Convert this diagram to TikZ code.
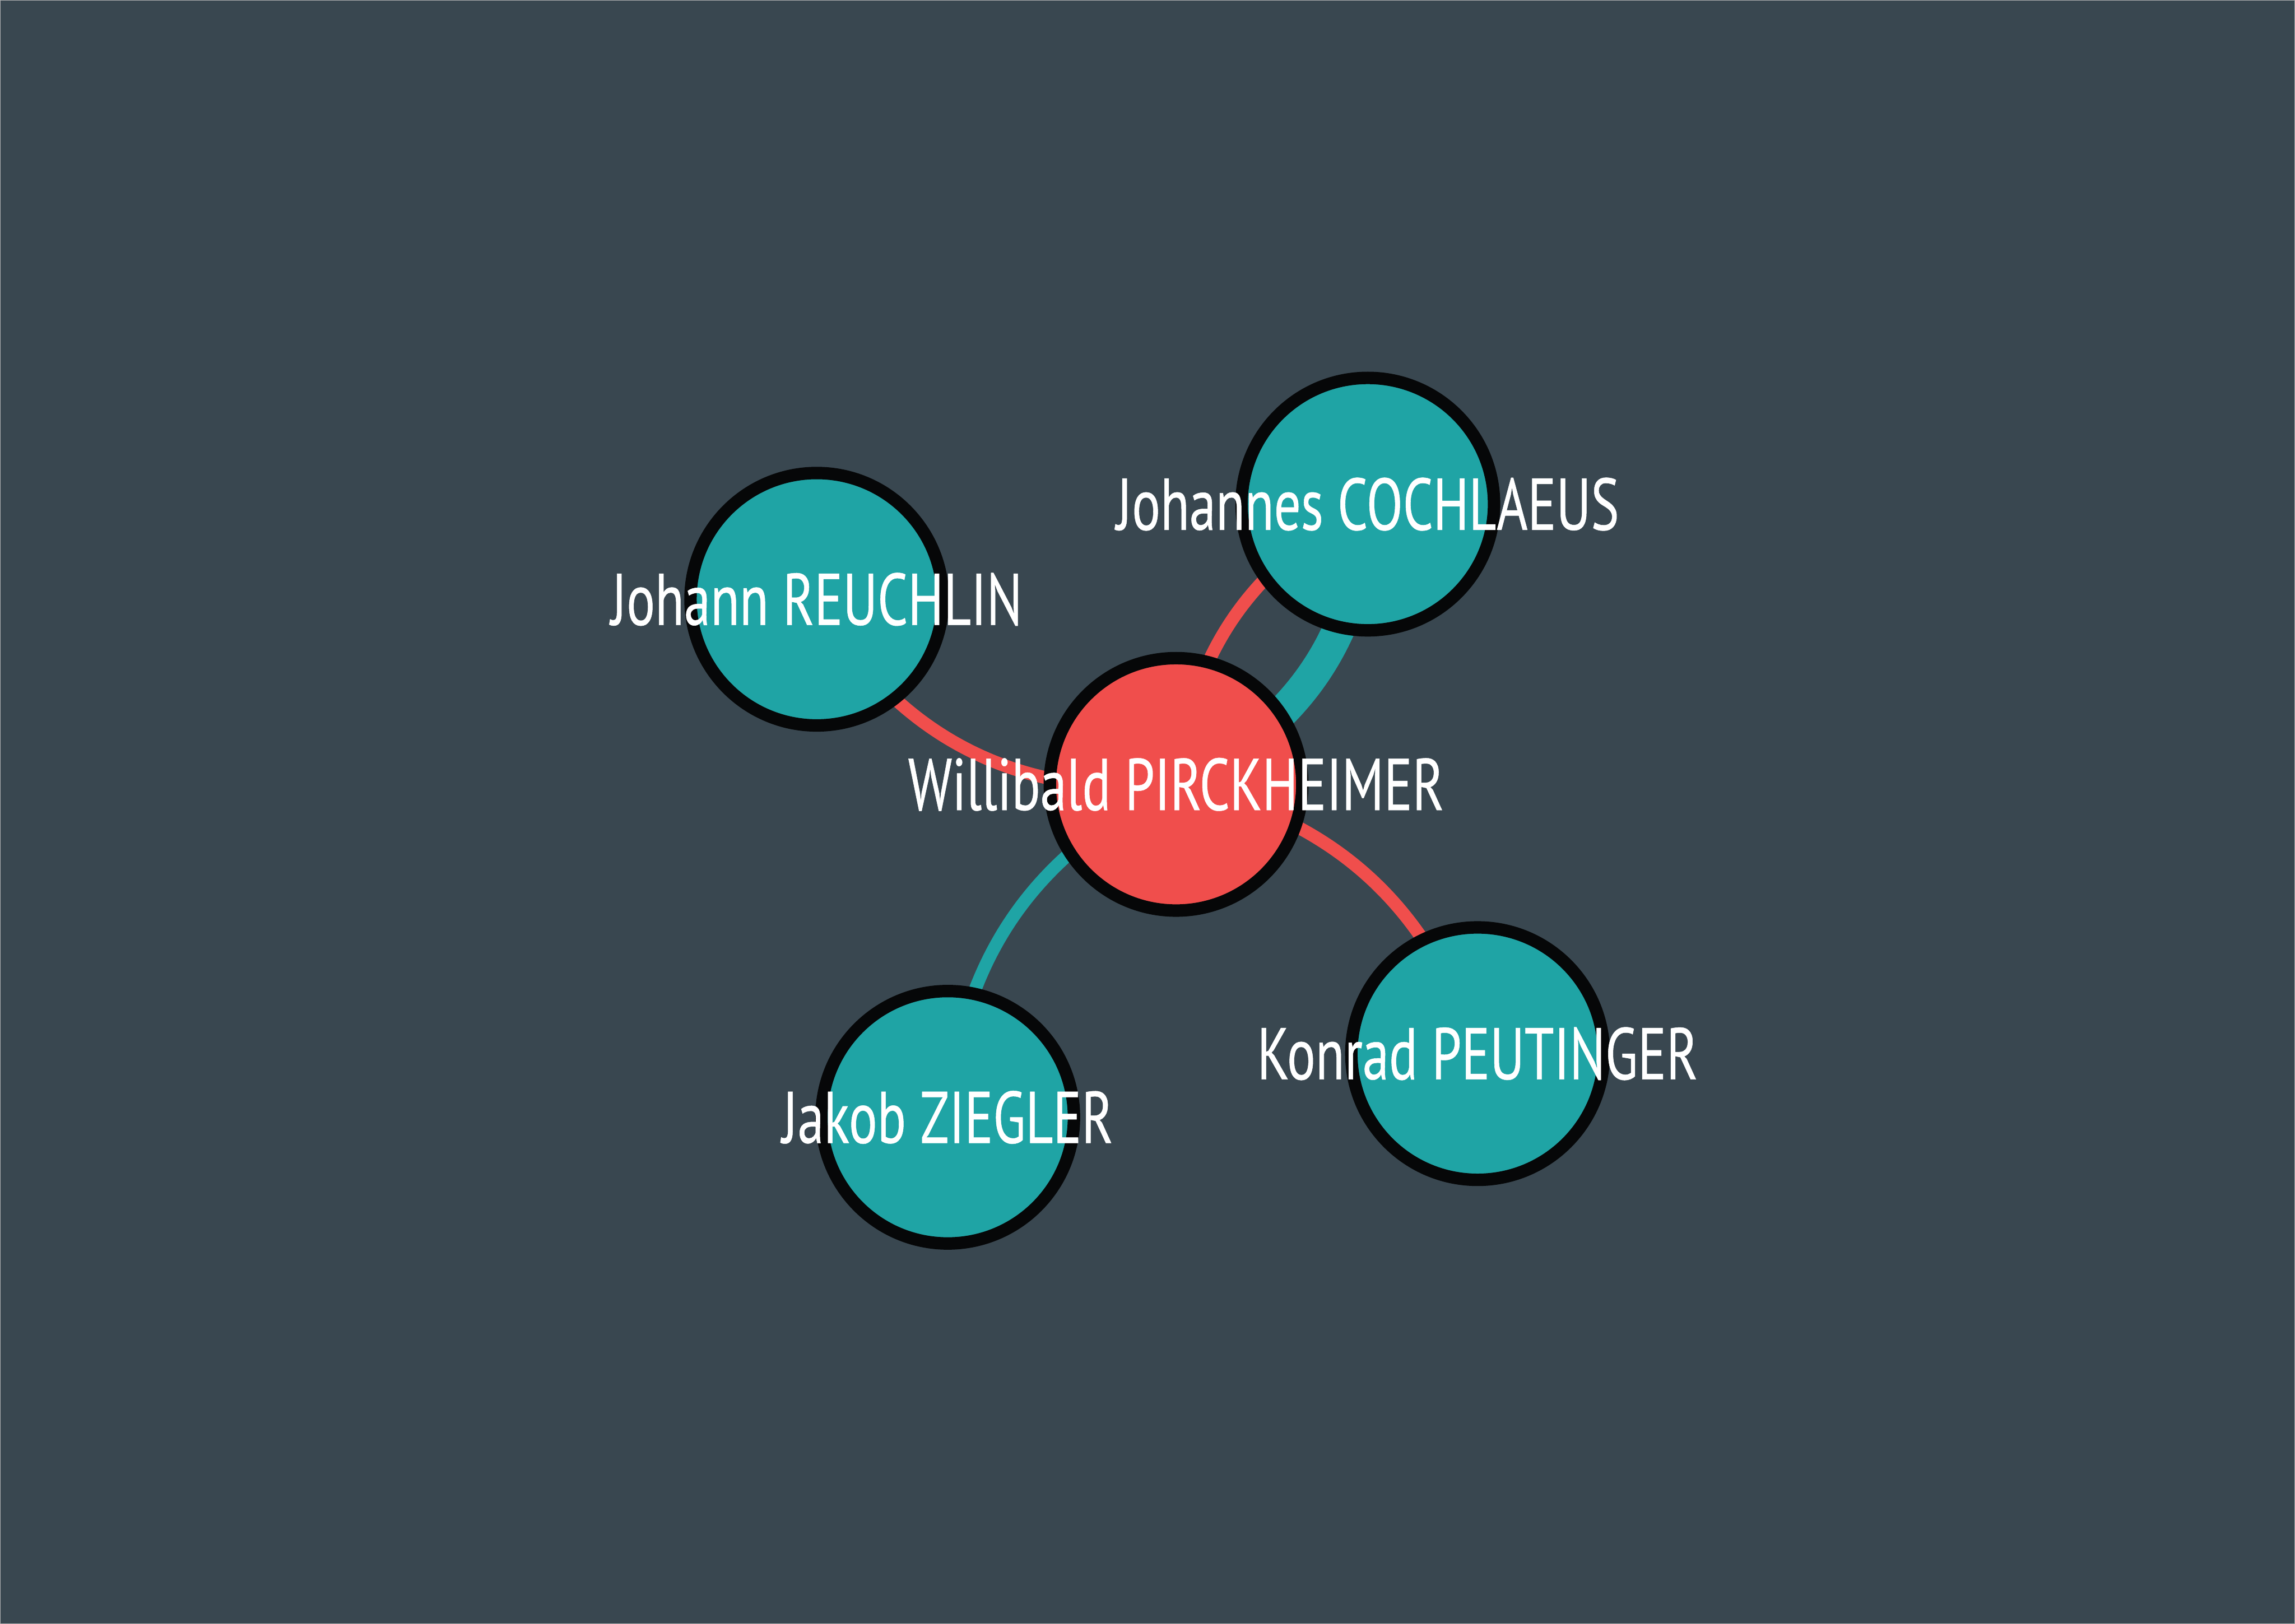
\documentclass[tikz,border=0pt]{standalone}
\usepackage{fontspec}
\setmainfont{PT Sans}[FakeStretch=0.725,FakeBold=0.4]
\usepackage{xcolor}
\definecolor{slate}{RGB}{57,71,80}
\definecolor{tealnode}{RGB}{31,164,165}
\definecolor{rednode}{RGB}{240,78,76}
\definecolor{ringblack}{RGB}{6,7,8}
\pgfdeclarelayer{back}
\pgfsetlayers{back,main}

\begin{document}
\begin{tikzpicture}[
  person/.style={circle,draw=ringblack,line width=0.17cm,minimum size=3.45cm,inner sep=0pt,fill=tealnode,
    label={[text=white,inner sep=0pt,text height=20pt,text depth=0pt,font=\fontsize{28.5}{30}\selectfont]center:#1}},
  hub/.style={person=#1,fill=rednode},
  tie/.style={line width=0.175cm},
  strongtie/.style={line width=0.44cm}]
\useasboundingbox (0,0) rectangle (31.36,22.19);
\node[hub={Willibald PIRCKHEIMER}] (pirck) at (16.07,11.47) {};
\node[person={Johannes COCHLAEUS}] (cochlaeus) at (18.69,15.30) {};
\node[person={Johann REUCHLIN}] (reuchlin) at (11.16,14.00) {};
\node[person={Jakob ZIEGLER}] (ziegler) at (12.95,6.92) {};
\node[person={Konrad PEUTINGER}] (peutinger) at (20.19,7.79) {};
\begin{pgfonlayer}{back}
\fill[slate,draw=gray!60,line width=0.3pt] (0,0) rectangle (31.36,22.19);
\draw[tie,rednode] (reuchlin.center) to[bend right=33] (pirck.center);
\draw[tie,rednode] (pirck.center) to[bend left=28] (cochlaeus.center);
\draw[strongtie,tealnode] (pirck.center) to[bend right=31] (cochlaeus.center);
\draw[tie,tealnode] (pirck.center) to[bend right=30] (ziegler.center);
\draw[tie,rednode] (pirck.center) to[bend left=30] (peutinger.center);
\end{pgfonlayer}
\end{tikzpicture}
\end{document}
